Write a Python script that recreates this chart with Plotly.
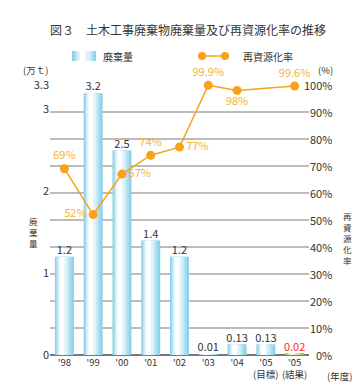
import plotly.graph_objects as go

categories = ["'98", "'99", "'00", "'01", "'02", "'03", "'04", "'05<br>(目標)", "'05<br>(結果)"]
waste = [1.2, 3.2, 2.5, 1.4, 1.2, 0.01, 0.13, 0.13, 0.02]
waste_labels = ["1.2", "3.2", "2.5", "1.4", "1.2", "0.01", "0.13", "0.13", "0.02"]
recycle = [69, 52, 67, 74, 77, 99.9, 98, None, 99.6]
recycle_labels = ["69%", "52%", "67%", "74%", "77%", "99.9%", "98%", "", "99.6%"]
recycle_pos = ["top center", "middle left", "middle right", "top center", "middle right",
               "top center", "bottom center", "top center", "top center"]
left_ticks = [0, 1, 2, 3, 3.3]
left_ticktext = ["0", "1", "2", "3", "3.3"]
right_ticks = [0, 10, 20, 30, 40, 50, 60, 70, 80, 90, 100]
right_ticktext = [f"{v}%" for v in right_ticks]

FONT = "Noto Sans CJK JP"
ORANGE = "#f7a21b"
ORANGE_TXT = "#f5b235"
TXT = "#333333"

x = list(range(len(categories)))
n = len(categories)

# layered bars to fake a cylinder gradient
layers = [
    (0.66, 0.0, ["#8fd0ea"] * (n - 1) + ["#9ccb3b"]),
    (0.54, -0.02, ["#a9dbf0"] * (n - 1) + ["#b0d65e"]),
    (0.42, -0.04, ["#c6e9f6"] * (n - 1) + ["#c8e38a"]),
    (0.30, -0.06, ["#e2f4fb"] * (n - 1) + ["#dfeeb8"]),
    (0.16, -0.08, ["#ffffff"] * (n - 1) + ["#f2f8e2"]),
]

fig = go.Figure()
for w, shift, cols in layers:
    fig.add_trace(go.Bar(
        x=x, y=waste, width=w, offset=-w / 2 + shift,
        marker=dict(color=cols, line=dict(width=0)),
        showlegend=False, hoverinfo="skip", yaxis="y"))

# bar value labels
fig.add_trace(go.Scatter(
    x=x, y=waste, mode="text", text=waste_labels, textposition="top center",
    textfont=dict(family=FONT, size=11, color=[TXT] * (n - 1) + ["#ff2a2a"]),
    showlegend=False, hoverinfo="skip", yaxis="y", cliponaxis=False))

# recycling rate line
fig.add_trace(go.Scatter(
    x=x, y=recycle, mode="lines+markers+text", connectgaps=True,
    line=dict(color=ORANGE, width=1.5),
    marker=dict(color=ORANGE, size=9),
    text=recycle_labels, textposition=recycle_pos,
    textfont=dict(family=FONT, size=11, color=ORANGE_TXT),
    showlegend=False, hoverinfo="skip", yaxis="y2", cliponaxis=False))

annotations = []


def px_x(px):
    return (px - 42) / 259.0


def px_y(py):
    return (347 - py) / 270.0


def note(px, py, text, size=10, color=TXT, xanchor="center"):
    annotations.append(dict(xref="paper", yref="paper", x=px_x(px), y=px_y(py), text=text,
                            showarrow=False, xanchor=xanchor, yanchor="middle",
                            font=dict(family=FONT, size=size, color=color)))


# right axis labels (right-aligned)
for v, t in zip(right_ticks, right_ticktext):
    annotations.append(dict(xref="paper", yref="y2", x=px_x(326), y=v, text=t, showarrow=False,
                            xanchor="right", yanchor="middle",
                            font=dict(family=FONT, size=11, color=TXT)))
# title
note(180, 22, "図３　土木工事廃棄物廃棄量及び再資源化率の推移", 12)
# legend texts
note(93, 48, "廃棄量", 10, xanchor="left")
note(233, 48, "再資源化率", 10, xanchor="left")
# unit labels
note(27, 62, "(万ｔ)", 9.5)
note(317, 62, "(%)", 9.5)
note(331, 368, "(年度)", 9.5)
# vertical axis titles
note(25, 224, "<br>".join("廃棄量"), 8.5)
note(339, 230, "<br>".join("再資源化率"), 8.5)

shapes = []
# legend swatch (gradient approximation)
sw = [("#8fd0ea", 64, 88), ("#a9dbf0", 66, 86), ("#c6e9f6", 68, 84), ("#e2f4fb", 70, 81), ("#ffffff", 72, 77)]
for col, x0, x1 in sw:
    shapes.append(dict(type="rect", xref="paper", yref="paper", x0=px_x(x0), x1=px_x(x1),
                       y0=px_y(53), y1=px_y(43), fillcolor=col, line=dict(width=0), layer="above"))
shapes.append(dict(type="line", xref="paper", yref="paper", x0=px_x(194), x1=px_x(217),
                   y0=px_y(48), y1=px_y(48), line=dict(color=ORANGE, width=1.5)))
for cx in (194, 217):
    shapes.append(dict(type="circle", xref="paper", yref="paper", x0=px_x(cx - 4), x1=px_x(cx + 4),
                       y0=px_y(52), y1=px_y(44), fillcolor=ORANGE, line=dict(width=0)))
# baseline
shapes.append(dict(type="line", xref="paper", yref="paper", x0=0, x1=1, y0=0, y1=0,
                   line=dict(color="#777777", width=2), layer="below"))

fig.update_layout(
    width=361, height=388,
    margin=dict(l=42, r=60, t=77, b=41),
    paper_bgcolor="white", plot_bgcolor="white",
    barmode="overlay",
    font=dict(family=FONT, size=11, color=TXT),
    xaxis=dict(tickmode="array", tickvals=x, ticktext=categories, range=[-0.5, n - 0.5],
               showgrid=False, zeroline=False, showline=False, ticks="", tickangle=0,
               automargin=False,
               tickfont=dict(family=FONT, size=9.5, color=TXT)),
    yaxis=dict(range=[0, 3.3], tickmode="array", tickvals=left_ticks, ticktext=left_ticktext,
               showgrid=False, zeroline=False, showline=False, ticks="", automargin=False,
               tickfont=dict(family=FONT, size=11, color=TXT)),
    yaxis2=dict(range=[0, 100], overlaying="y", side="right", tickmode="array",
                tickvals=right_ticks, showticklabels=False, showgrid=True, automargin=False,
                gridcolor="#bcbcbc", gridwidth=2, zeroline=False, showline=False, ticks="",
                layer="below traces"),
    annotations=annotations,
    shapes=shapes,
    showlegend=False,
)

fig.write_html("out.html")
